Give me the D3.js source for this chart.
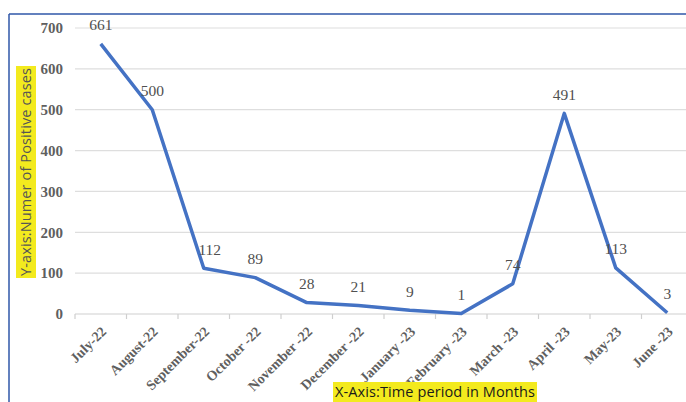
<!DOCTYPE html>
<html>
<head>
<meta charset="utf-8">
<script src="https://cdn.jsdelivr.net/npm/d3@7"></script>
<style>
  body { margin: 0; background: #fff; }
  svg { display: block; }
  .serif { font-family: "Liberation Serif", "Times New Roman", "DejaVu Serif", serif; }
  .sans { font-family: "Open Sans", "Liberation Sans", sans-serif; }
</style>
</head>
<body>
<div id="chart"></div>
<script>
// Data
const months = ["July-22", "August-22", "September-22", "October -22", "November -22", "December -22",
    "January -23", "February -23", "March -23", "April -23", "May-23", "June -23"];
const cases = [661, 500, 112, 89, 28, 21, 9, 1, 74, 491, 113, 3];
const yTicks = [0, 100, 200, 300, 400, 500, 600, 700];

const W = 686, H = 402;
const plot = {left: 75, right: 693, top: 28, bottom: 314};

const svg = d3.select("#chart")
    .append("svg")
    .attr("width", W)
    .attr("height", H);

// Frame (top and left edges visible)
svg.append("line")
    .attr("x1", 9).attr("x2", W).attr("y1", 14).attr("y2", 14)
    .attr("stroke", "#2f57a8").attr("stroke-width", 1.5);
svg.append("line")
    .attr("x1", 9).attr("x2", 9).attr("y1", 14).attr("y2", H)
    .attr("stroke", "#2f57a8").attr("stroke-width", 1.5);

const xScale = d3.scaleBand()
    .domain(months)
    .range([plot.left, plot.right]);

const yScale = d3.scaleLinear()
    .domain([0, 700])
    .range([plot.bottom, plot.top]);

// Gridlines
svg.append("g")
    .selectAll("line")
    .data(yTicks)
    .enter().append("line")
    .attr("x1", plot.left)
    .attr("x2", W)
    .attr("y1", d => yScale(d))
    .attr("y2", d => yScale(d))
    .attr("stroke", d => d === 0 ? "#cfcfcf" : "#dedede")
    .attr("stroke-width", 1.2);

// x tick marks at band boundaries
svg.append("g")
    .selectAll("line")
    .data(months)
    .enter().append("line")
    .attr("x1", d => xScale(d))
    .attr("x2", d => xScale(d))
    .attr("y1", plot.bottom)
    .attr("y2", plot.bottom + 5)
    .attr("stroke", "#cfcfcf")
    .attr("stroke-width", 1.2);

// y tick labels
svg.append("g")
    .selectAll("text")
    .data(yTicks)
    .enter().append("text")
    .attr("class", "serif")
    .attr("x", 63)
    .attr("y", d => yScale(d))
    .attr("dy", "0.35em")
    .attr("text-anchor", "end")
    .attr("font-weight", "bold")
    .attr("font-size", 15)
    .attr("fill", "#5f5f5f")
    .text(d => d);

// x tick labels, rotated
svg.append("g")
    .selectAll("text")
    .data(months)
    .enter().append("text")
    .attr("class", "serif")
    .attr("transform", d => "translate(" + (xScale(d) + xScale.bandwidth() / 2 + 3) + "," + (plot.bottom + 15) + ") rotate(-45)")
    .attr("dy", "0.35em")
    .attr("text-anchor", "end")
    .attr("font-weight", "bold")
    .attr("font-size", 14)
    .attr("fill", "#5f5f5f")
    .text(d => d);

// The line
const line = d3.line()
    .x((d, i) => xScale(months[i]) + xScale.bandwidth() / 2)
    .y(d => yScale(d));

svg.append("path")
    .datum(cases)
    .attr("d", line)
    .attr("fill", "none")
    .attr("stroke", "#4472c4")
    .attr("stroke-width", 3.5)
    .attr("stroke-linejoin", "round");

// Data labels
svg.append("g")
    .selectAll("text")
    .data(cases)
    .enter().append("text")
    .attr("class", "serif")
    .attr("x", (d, i) => xScale(months[i]) + xScale.bandwidth() / 2 + (i === 2 ? 6 : 0))
    .attr("y", d => yScale(d) - 19)
    .attr("dy", "0.35em")
    .attr("text-anchor", "middle")
    .attr("font-size", 15.5)
    .attr("fill", "#505050")
    .text(d => d);

// Axis titles with yellow highlight
const xTitle = svg.append("g").attr("transform", "translate(435,392)");
xTitle.append("rect")
    .attr("x", -102).attr("y", -10).attr("width", 204).attr("height", 20)
    .attr("fill", "#f3ea1e");
xTitle.append("text")
    .attr("class", "sans")
    .attr("dy", "0.35em")
    .attr("text-anchor", "middle")
    .attr("font-size", 14.5)
    .attr("textLength", 200)
    .attr("fill", "#1a1a1a")
    .text("X-Axis:Time period in Months");

const yTitle = svg.append("g").attr("transform", "translate(26,172) rotate(-90)");
yTitle.append("rect")
    .attr("x", -106).attr("y", -10).attr("width", 212).attr("height", 20)
    .attr("fill", "#f3ea1e");
yTitle.append("text")
    .attr("class", "sans")
    .attr("dy", "0.35em")
    .attr("text-anchor", "middle")
    .attr("font-size", 14.5)
    .attr("textLength", 208)
    .attr("fill", "#555555")
    .text("Y-axis:Numer of Positive cases");
</script>
</body>
</html>
